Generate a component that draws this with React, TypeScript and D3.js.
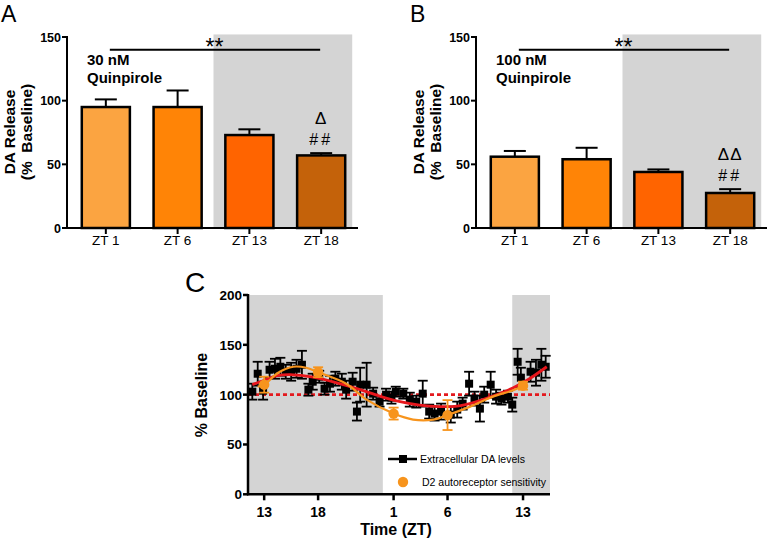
import React from "react";
import * as d3 from "d3";

// ---------- Panels A & B ----------
const ztLabels = ["ZT 1", "ZT 6", "ZT 13", "ZT 18"];
const releaseA = [95, 95, 73, 57];
const errA = [6, 13, 4.5, 1.8];
const releaseB = [56, 54, 44, 27.5];
const errB = [4.5, 9, 2, 3];
const barColors = ["#FBA441", "#FF8406", "#FF6400", "#C4620A"];
const yTicksAB = [0, 50, 100, 150];

// ---------- Panel C ----------
const daTimes = [11.9, 12.4, 12.9, 13.5, 14.0, 14.5, 15.0, 15.5, 16.0, 16.5, 17.1, 17.5, 18.1, 18.6, 19.1, 19.6, 20.2, 20.6, 21.2, 21.6, 21.9, 22.5, 23.1, 23.7, 24.3, 24.8, 25.2, 25.9, 26.5, 27.1, 27.7, 28.3, 28.8, 29.4, 30.3, 30.9, 31.4, 32.0, 32.5, 33.0, 33.4, 34.0, 34.5, 35.0, 35.6, 36.0, 36.5, 36.8, 37.7, 38.2, 38.7, 39.1];
const daValues = [103, 121, 104, 125, 126, 128, 123, 123, 126, 130, 105, 113, 118, 106, 111, 116, 113, 105, 113, 83, 110, 110, 101, 93, 100, 97, 103, 101, 95, 93, 101, 83, 81, 83, 80, 85, 91, 111, 96, 86, 100, 110, 98, 96, 98, 90, 133, 117, 123, 122, 130, 128];
const daErrors = [8, 12, 9, 8, 10, 9, 7, 9, 9, 14, 6, 8, 6, 6, 8, 7, 8, 9, 9, 9, 17, 22, 6, 5, 6, 6, 5, 5, 7, 6, 13, 7, 7, 8, 8, 8, 6, 12, 7, 13, 8, 13, 7, 6, 6, 7, 13, 10, 10, 13, 16, 11];

const d2Times = [13, 18, 25, 30, 37];
const d2Values = [110, 122.5, 81, 79.5, 109];
const d2Errors = [8, 5, 6, 15, 4];

const redFitTimes = [11.9, 12.9, 14.2, 15.4, 16.9, 18.2, 20.0, 21.9, 23.7, 25.6, 27.4, 29.3, 30.9, 32.4, 34.2, 36.1, 37.6, 39.2];
const redFitValues = [110, 114, 119, 120, 118.5, 116, 111, 105, 98.5, 93, 89.5, 88, 88.5, 92, 98.5, 107, 116, 128];

const orangeFitTimes = [12.4, 13.0, 14.3, 15.7, 16.9, 18.0, 20.6, 22.5, 25.0, 26.8, 28.7, 30.0, 32.1, 34.2, 36.1, 37.0];
const orangeFitValues = [108, 110, 122, 128, 127, 122.5, 111, 95, 81, 75, 75, 79.5, 88, 98, 104.5, 109];

const cYTicks = [0, 50, 100, 150, 200];
const cXTicks = [13, 18, 25, 30, 37];
const cXTickLabels = ["13", "18", "1", "6", "13"];

const FONT = "'Liberation Sans', Arial, Helvetica, sans-serif";

function BarPanel(props: {
  ox: number; letter: string; conc: string; values: number[]; errors: number[]; stars: string; marks: string;
}) {
  const { ox, letter, conc, values, errors, marks, stars } = props;
  const axisX = ox + 67;
  const axisEnd = ox + 358;
  const y = d3.scaleLinear().domain([0, 150]).range([228, 37]);
  const x = d3.scaleBand<string>().domain(ztLabels).range([ox + 66, ox + 361]).paddingInner(0.33).paddingOuter(0.22);
  const bw = x.bandwidth();
  const grayLeft = ((x("ZT 6") as number) + bw + (x("ZT 13") as number)) / 2;
  const grayRight = (x("ZT 18") as number) + bw + 7;
  const lineX1 = (x("ZT 1") as number) + bw / 2 + 4;
  const lineX2 = (x("ZT 18") as number) + bw / 2 - 1;
  const cx18 = (x("ZT 18") as number) + bw / 2;
  const markTop = y(values[3] + errors[3]);
  return (
    <g fontFamily={FONT}>
      <rect x={grayLeft} y={y(152)} width={grayRight - grayLeft} height={y(0) - y(152)} fill="#D4D4D4" />
      <text x={ox + 1} y={22} fontSize={23}>{letter}</text>
      {values.map((v, i) => {
        const bx = x(ztLabels[i]) as number;
        const cx = bx + bw / 2;
        return (
          <g key={i}>
            <line x1={cx} x2={cx} y1={y(v)} y2={y(v + errors[i])} stroke="#000" strokeWidth={2} />
            <line x1={cx - 11} x2={cx + 11} y1={y(v + errors[i])} y2={y(v + errors[i])} stroke="#000" strokeWidth={2} />
            <rect x={bx} y={y(v)} width={bw} height={y(0) - y(v)} fill={barColors[i]} stroke="#000" strokeWidth={2.5} />
          </g>
        );
      })}
      {/* axes */}
      <line x1={axisX} x2={axisX} y1={y(150) - 1} y2={y(0) + 1} stroke="#000" strokeWidth={2} />
      <line x1={axisX - 1} x2={axisEnd} y1={y(0)} y2={y(0)} stroke="#000" strokeWidth={2} />
      {yTicksAB.map((t) => (
        <g key={t}>
          <line x1={axisX - 5} x2={axisX} y1={y(t)} y2={y(t)} stroke="#000" strokeWidth={2} />
          <text x={axisX - 6} y={y(t) + 4.5} fontSize={12.5} fontWeight="bold" textAnchor="end">{t}</text>
        </g>
      ))}
      {ztLabels.map((lab) => {
        const cx = (x(lab) as number) + bw / 2;
        return (
          <g key={lab}>
            <line x1={cx} x2={cx} y1={y(0)} y2={y(0) + 6} stroke="#000" strokeWidth={2} />
            <text x={cx} y={245} fontSize={13.5} textAnchor="middle">{lab}</text>
          </g>
        );
      })}
      {/* y title */}
      <text transform={`translate(${ox + 15},132) rotate(-90)`} fontSize={15.5} fontWeight="bold" textAnchor="middle">DA Release</text>
      <text transform={`translate(${ox + 32},132) rotate(-90)`} fontSize={15.5} fontWeight="bold" textAnchor="middle" style={{ whiteSpace: "pre" }}>{"(%  Baseline)"}</text>
      {/* significance */}
      <line x1={lineX1} x2={lineX2} y1={y(140)} y2={y(140)} stroke="#000" strokeWidth={2} />
      <text x={(grayLeft + 1)} y={y(140) + 5} fontSize={23} textAnchor="middle">{stars}</text>
      <text x={ox + 87} y={65} fontSize={15} fontWeight="bold">{conc}</text>
      <text x={ox + 87} y={83} fontSize={15} fontWeight="bold">Quinpirole</text>
      <text x={cx18} y={markTop - 29} fontSize={17} textAnchor="middle" letterSpacing={1}>{marks}</text>
      <text x={cx18} y={markTop - 8} fontSize={16} textAnchor="middle" letterSpacing={3}>##</text>
    </g>
  );
}

function PanelC() {
  const x = d3.scaleLinear().domain([11.5, 39.5]).range([248, 550]);
  const y = d3.scaleLinear().domain([0, 200]).range([494.3, 295]);
  const red = d3.line<number>().x((d, i) => x(redFitTimes[i])).y((d) => y(d)).curve(d3.curveCatmullRom);
  const orange = d3.line<number>().x((d, i) => x(orangeFitTimes[i])).y((d) => y(d)).curve(d3.curveCatmullRom);
  const y0 = y(0);
  return (
    <g fontFamily={FONT}>
      <rect x={x(11.5)} y={y(200)} width={x(24) - x(11.5)} height={y0 - y(200)} fill="#D4D4D4" />
      <rect x={x(36)} y={y(200)} width={x(39.5) - x(36)} height={y0 - y(200)} fill="#D4D4D4" />
      <text x={185} y={292} fontSize={28}>C</text>
      <line x1={x(11.5)} x2={x(39.5)} y1={y(100)} y2={y(100)} stroke="#E3191E" strokeWidth={2.6} strokeDasharray="4,3" />
      {daValues.map((v, i) => {
        const cx = x(daTimes[i]);
        const e = daErrors[i];
        return (
          <g key={i}>
            <line x1={cx} x2={cx} y1={y(v - e)} y2={y(v + e)} stroke="#000" strokeWidth={1.8} />
            <line x1={cx - 5} x2={cx + 5} y1={y(v - e)} y2={y(v - e)} stroke="#000" strokeWidth={1.8} />
            <line x1={cx - 5} x2={cx + 5} y1={y(v + e)} y2={y(v + e)} stroke="#000" strokeWidth={1.8} />
            <rect x={cx - 4} y={y(v) - 4} width={8} height={8} fill="#000" />
          </g>
        );
      })}
      <path d={red(redFitValues) || ""} fill="none" stroke="#E8161C" strokeWidth={2.8} />
      <path d={orange(orangeFitValues) || ""} fill="none" stroke="#F7941D" strokeWidth={2.2} />
      {d2Values.map((v, i) => {
        const cx = x(d2Times[i]);
        const e = d2Errors[i];
        return (
          <g key={i}>
            <line x1={cx} x2={cx} y1={y(v - e)} y2={y(v + e)} stroke="#F7941D" strokeWidth={1.8} />
            <line x1={cx - 5} x2={cx + 5} y1={y(v - e)} y2={y(v - e)} stroke="#F7941D" strokeWidth={1.8} />
            <line x1={cx - 5} x2={cx + 5} y1={y(v + e)} y2={y(v + e)} stroke="#F7941D" strokeWidth={1.8} />
            <circle cx={cx} cy={y(v)} r={5.2} fill="#F7941D" />
          </g>
        );
      })}
      {/* axes */}
      <line x1={248} x2={248} y1={y(200) - 1} y2={y0 + 1} stroke="#000" strokeWidth={2.5} />
      <line x1={247} x2={x(39.5)} y1={y0} y2={y0} stroke="#000" strokeWidth={2.5} />
      {cYTicks.map((t) => (
        <g key={t}>
          <line x1={243} x2={248} y1={y(t)} y2={y(t)} stroke="#000" strokeWidth={2.5} />
          <text x={242} y={y(t) + 5} fontSize={13.5} fontWeight="bold" textAnchor="end">{t}</text>
        </g>
      ))}
      {cXTicks.map((t, i) => (
        <g key={i}>
          <line x1={x(t)} x2={x(t)} y1={y0} y2={y0 + 6} stroke="#000" strokeWidth={2.5} />
          <text x={x(t)} y={517} fontSize={14} fontWeight="bold" textAnchor="middle">{cXTickLabels[i]}</text>
        </g>
      ))}
      <text x={396} y={535} fontSize={16} fontWeight="bold" textAnchor="middle">Time (ZT)</text>
      <text transform="translate(207,395) rotate(-90)" fontSize={16} fontWeight="bold" textAnchor="middle">% Baseline</text>
      {/* legend */}
      <line x1={388} x2={417} y1={459} y2={459} stroke="#000" strokeWidth={2.5} />
      <rect x={399} y={455} width={8} height={8} fill="#000" />
      <text x={420} y={463} fontSize={11} textLength={105} lengthAdjust="spacingAndGlyphs">Extracellular DA levels</text>
      <circle cx={403} cy={482} r={5.2} fill="#F7941D" />
      <text x={422} y={486} fontSize={11} textLength={124} lengthAdjust="spacingAndGlyphs">D2 autoreceptor sensitivity</text>
    </g>
  );
}

export default function App() {
  return (
    <svg width={768} height={544} style={{ position: "absolute", left: 0, top: 0, background: "#fff" }}>
      <rect width={768} height={544} fill="#fff" />
      <BarPanel ox={0} letter="A" conc="30 nM" values={releaseA} errors={errA} stars="**" marks="Δ" />
      <BarPanel ox={409} letter="B" conc="100 nM" values={releaseB} errors={errB} stars="**" marks="ΔΔ" />
      <PanelC />
    </svg>
  );
}
